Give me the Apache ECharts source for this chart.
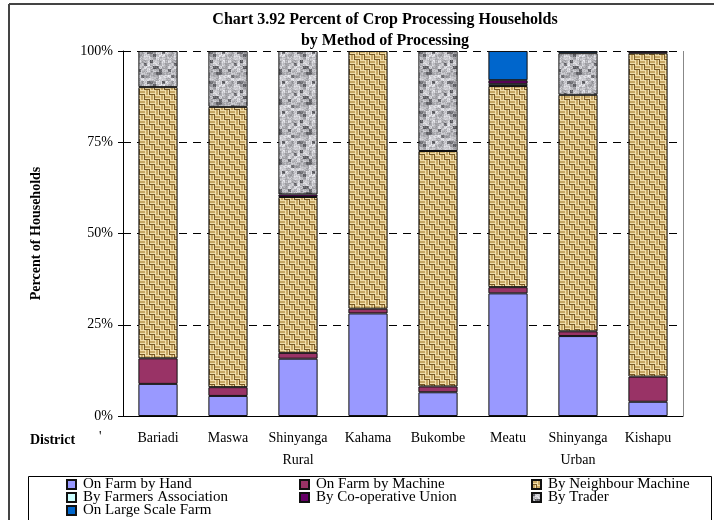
<!DOCTYPE html>
<html><head><meta charset="utf-8">
<script src="https://cdn.jsdelivr.net/npm/echarts@6/dist/echarts.min.js"></script>
<style>html,body{margin:0;padding:0;background:#fff}#c{width:714px;height:520px}</style>
</head><body><div id="c"></div>
<script>
const districts = ['Bariadi','Maswa','Shinyanga\nRural','Kahama','Bukombe','Meatu','Shinyanga\nUrban','Kishapu'];
const seriesNames = ['On Farm by Hand','On Farm by Machine','By Neighbour Machine','By Farmers Association','By Co-operative Union','By Trader','On Large Scale Farm'];
const onFarmByHand      = [8.8, 5.5, 15.7, 28.1, 6.5, 33.6, 21.9, 3.9];
const onFarmByMachine   = [7.0, 2.4, 1.6, 1.3, 1.6, 1.7, 1.3, 6.9];
const byNeighbourMach   = [74.3, 76.8, 42.7, 70.6, 64.5, 55.1, 64.8, 88.6];
const byFarmersAssoc    = [0, 0, 0, 0, 0, 0.6, 0, 0];
const byCoopUnion       = [0, 0, 0.7, 0, 0, 1.0, 0, 0.6];
const byTrader          = [9.9, 15.3, 39.3, 0, 27.4, 0, 11.4, 0];
const onLargeScaleFarm  = [0, 0, 0, 0, 0, 8.0, 0.6, 0];
const yTicks = [0, 25, 50, 75, 100];

function burlap(){
  const c=document.createElement('canvas'); c.width=c.height=10;
  const g=c.getContext('2d');
  g.fillStyle='#7a5a26'; g.fillRect(0,0,10,10);
  for(let i=0;i<2;i++)for(let j=0;j<2;j++){
    const x=i*5,y=j*5;
    if((i+j)%2===0){
      g.fillStyle='#f0ddaa'; g.fillRect(x,y,5,1); g.fillRect(x,y+3,5,1);
      g.fillStyle='#c9a865'; g.fillRect(x,y+1,5,1); g.fillRect(x,y+2,5,1);
    } else {
      g.fillStyle='#f0ddaa'; g.fillRect(x,y,1,5); g.fillRect(x+3,y,1,5);
      g.fillStyle='#c9a865'; g.fillRect(x+1,y,1,5); g.fillRect(x+2,y,1,5);
    }
  }
  return c;
}
function granite(){
  const n=30;
  const c=document.createElement('canvas'); c.width=c.height=n;
  const g=c.getContext('2d');
  for(let x=0;x<n;x++)for(let y=0;y<n;y++){
    let h=Math.sin(x*12.9898+y*78.233)*43758.5453; h=h-Math.floor(h);
    let h2=Math.sin(Math.floor(x/3)*7.13+Math.floor(y/3)*3.71)*9371.31; h2=h2-Math.floor(h2);
    let v=Math.round(120+h*50+h2*75);
    if(h2<0.12) v-=40;
    g.fillStyle='rgb('+v+','+v+','+(v+5)+')'; g.fillRect(x,y,1,1);
  }
  return c;
}
const colors = ['#9999ff','#993366',{image:burlap(),repeat:'repeat'},'#ccffff','#660066',{image:granite(),repeat:'repeat'},'#0066cc'];
const dataArr = [onFarmByHand,onFarmByMachine,byNeighbourMach,byFarmersAssoc,byCoopUnion,byTrader,onLargeScaleFarm];
const font = 'Liberation Serif';

// legend slot per series: [left, top]
const legendPos = [[66,477],[299,477],[531,477],[66,490],[299,490],[531,490],[66,503]];

const chart = echarts.init(document.getElementById('c'));
chart.setOption({
  animation:false,
  grid:{left:123, right:31, top:51, bottom:104},
  xAxis:{type:'category', data:districts,
    axisLine:{lineStyle:{color:'#000'}},
    axisTick:{length:5, lineStyle:{color:'#000'}},
    axisLabel:{fontFamily:font, fontSize:14, color:'#000', margin:11, lineHeight:22, interval:0}},
  yAxis:{type:'value', min:yTicks[0], max:yTicks[yTicks.length-1], interval:25,
    name:'Percent of Households', nameLocation:'middle', nameRotate:90, nameGap:80,
    nameTextStyle:{fontFamily:font, fontSize:14, fontWeight:'bold', color:'#000'},
    axisLine:{show:true, lineStyle:{color:'#000'}},
    axisTick:{show:true, length:5, lineStyle:{color:'#000'}},
    axisLabel:{formatter:'{value}%', fontFamily:font, fontSize:14, color:'#000', margin:10},
    splitLine:{lineStyle:{color:'#000', type:[8,6], width:1}}},
  legend: seriesNames.map((n,i)=>({
    left:legendPos[i][0], top:legendPos[i][1], data:[n], padding:0,
    itemWidth:9, itemHeight:9, icon:'rect',
    textStyle:{fontFamily:font, fontSize:15, color:'#000', padding:[0,0,0,2]}
  })),
  series: seriesNames.map((n,i)=>({
    name:n, type:'bar', stack:'total', barWidth:'56%',
    data: dataArr[i].map(v=> v ? v : null),
    itemStyle:{color:colors[i], borderColor:'#111', borderWidth:1}
  })),
  graphic:[
    {type:'line', shape:{x1:9,y1:4,x2:714,y2:4}, style:{stroke:'#444', lineWidth:2}, silent:true},
    {type:'line', shape:{x1:9,y1:4,x2:9,y2:520}, style:{stroke:'#444', lineWidth:2}, silent:true},
    {type:'line', shape:{x1:683.5,y1:51,x2:683.5,y2:416}, style:{stroke:'#888', lineWidth:1}, silent:true, z:5},
    {type:'rect', shape:{x:28.5,y:476.5,width:683,height:50}, style:{fill:null, stroke:'#000', lineWidth:1}, silent:true},
    {type:'text', x:385, y:9, style:{text:'Chart 3.92 Percent of Crop Processing Households\nby Method of Processing',
      textAlign:'center', font:'bold 16px "Liberation Serif"', lineHeight:21, fill:'#000'}},
    {type:'text', x:30, y:433, style:{text:'District', font:'bold 14px "Liberation Serif"', fill:'#000'}},
    {type:'text', x:99, y:430, style:{text:'\'', font:'14px "Liberation Serif"', fill:'#000'}}
  ]
});
</script></body></html>
